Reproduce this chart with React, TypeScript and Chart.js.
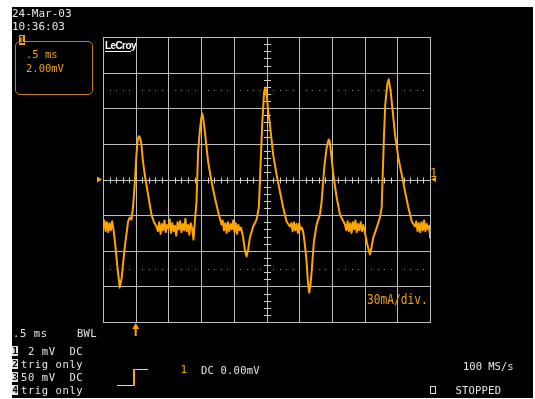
import React, { useEffect, useRef } from 'react';
import { Chart, registerables } from 'chart.js';

Chart.register(...registerables);

// ---- data (time in ms, channel 1 in mV) ----
const timeMs = [
  0, 0.02, 0.04, 0.06, 0.08, 0.1, 0.12, 0.14, 0.16,
  0.179, 0.217, 0.256, 0.286, 0.332, 0.383, 0.409, 0.435, 0.459, 0.485, 0.511, 0.531, 0.551, 0.569, 0.588, 0.608, 0.638, 0.689, 0.741, 0.776, 0.817,
  0.84, 0.86, 0.88, 0.9, 0.92, 0.94, 0.96, 0.98, 1.0, 1.02, 1.04, 1.06, 1.08, 1.1, 1.12, 1.14, 1.16, 1.18, 1.2, 1.22, 1.24, 1.26, 1.28, 1.3, 1.32, 1.34, 1.36,
  1.384, 1.404, 1.43, 1.454, 1.48, 1.5, 1.515, 1.531, 1.557, 1.607, 1.659, 1.71, 1.76, 1.812,
  1.83, 1.85, 1.87, 1.89, 1.91, 1.93, 1.95, 1.97, 1.99, 2.01, 2.03, 2.05, 2.07, 2.09, 2.11,
  2.143, 2.169, 2.195, 2.219, 2.246, 2.296, 2.348, 2.383, 2.414, 2.434, 2.464, 2.486, 2.506, 2.526, 2.552, 2.602, 2.654, 2.705, 2.755, 2.807, 2.858,
  2.88, 2.9, 2.92, 2.94, 2.96, 2.98, 3.0, 3.02, 3.04,
  3.061, 3.087, 3.113, 3.133, 3.153, 3.172, 3.19, 3.225, 3.266, 3.291, 3.317, 3.343, 3.383, 3.42, 3.45, 3.466, 3.485, 3.521, 3.573, 3.623, 3.7,
  3.72, 3.74, 3.76, 3.78, 3.8, 3.82, 3.84, 3.86, 3.88, 3.9, 3.92, 3.94, 3.96, 3.98, 4.0,
  4.032, 4.06, 4.082, 4.105, 4.133, 4.185, 4.235, 4.261, 4.277, 4.297, 4.316, 4.347, 4.368, 4.399, 4.43, 4.465, 4.515, 4.568, 4.618, 4.669, 4.721, 4.771,
  4.79, 4.81, 4.83, 4.85, 4.87, 4.89, 4.91, 4.93, 4.95, 4.97, 4.99, 5.0,
];

const voltageMv = [
  -2.55, -2.3, -2.9, -2.4, -2.95, -2.45, -2.85, -2.35, -2.8,
  -3.37, -4.78, -6.07, -5.51, -3.82, -2.36, -2.13, -2.25, -1.57, -0.28, 1.4, 2.25, 2.43, 2.3, 1.97, 1.12, 0.28, -0.84, -1.97, -2.36, -2.64,
  -2.9, -2.4, -3.05, -2.5, -2.85, -2.3, -2.95, -2.55, -2.75, -2.25, -3.0, -2.45, -2.9, -2.6, -3.15, -2.4, -2.8, -2.35, -2.95, -2.5, -2.85, -2.2, -2.9, -2.55, -3.1, -2.45, -2.7,
  -3.37, -2.36, -1.24, 1.57, 2.7, 3.37, 3.71, 3.48, 2.7, 1.01, -0.11, -1.01, -1.8, -2.53,
  -2.3, -2.85, -2.45, -3.0, -2.4, -2.9, -2.5, -2.8, -2.3, -2.95, -2.45, -3.05, -2.55, -2.85, -2.7,
  -3.26, -3.93, -4.33, -3.93, -3.26, -2.64, -2.25, -1.57, 1.24, 3.09, 4.94, 5.17, 4.61, 3.82, 3.09, 1.4, 0.28, -0.67, -1.57, -2.36, -2.64,
  -2.45, -2.9, -2.4, -2.85, -2.5, -3.0, -2.45, -2.8, -2.7,
  -2.92, -3.65, -4.61, -5.73, -6.35, -5.9, -5.17, -3.48, -2.53, -2.25, -1.97, -1.24, 0.67, 1.8, 2.25, 2.13, 1.57, 0.28, -1.01, -1.97, -2.53,
  -2.85, -2.35, -2.9, -2.45, -3.0, -2.4, -2.8, -2.3, -2.95, -2.5, -2.85, -2.4, -2.9, -2.55, -2.9,
  -3.48, -3.93, -4.21, -3.82, -3.26, -2.7, -2.13, -1.57, 0.28, 2.53, 4.21, 5.34, 5.62, 4.94, 3.82, 2.53, 1.24, 0.28, -0.67, -1.57, -2.36, -2.64,
  -2.35, -2.9, -2.45, -2.95, -2.4, -2.85, -2.3, -2.9, -2.5, -2.8, -2.6, -3.26,
];

// screen geometry in engineering units
const TIME_RANGE = [0, 5];
const TIME_DIV = 0.5;
const TIME_MINOR = 0.1;
const VOLT_RANGE = [-8, 8];
const VOLT_DIV = 2;
const VOLT_MINOR = 0.4;
const DOTTED_LEVELS = [5, -5];
const TRIGGER_TIME = 0.5;

// texts
const headerLines = ['24-Mar-03', '10:36:03'];
const channelBoxLines = ['.5 ms', '2.00mV'];
const channelRows = [
  { id: '1', text: ' 2 mV  DC' },
  { id: '2', text: 'trig only' },
  { id: '3', text: '50 mV  DC' },
  { id: '4', text: 'trig only' },
];
const timebaseLabel = '.5 ms';
const bandwidthLabel = 'BWL';
const triggerChannel = '1';
const triggerInfo = 'DC 0.00mV';
const sampleRate = '100 MS/s';
const runState = 'STOPPED';
const scaleNote = '30mA/div.';
const brand = 'LeCroy';

const TRACE = '#ffa500';
const ORANGE_TXT = '#f3a000';
const WHITE_TXT = '#e6e6e6';
const GRID = '#bdbdbd';
const MONO = '"DejaVu Sans Mono", "Liberation Mono", monospace';

const scopePlugin = {
  id: 'scopeGrid',
  beforeDatasetsDraw(chart: any) {
    const { ctx, chartArea: a, scales } = chart;
    const xs = scales.x;
    const ys = scales.y;
    ctx.save();
    // dotted level lines
    ctx.fillStyle = '#7a7a7a';
    for (const lv of DOTTED_LEVELS) {
      const py = Math.round(ys.getPixelForValue(lv));
      const n = Math.round((TIME_RANGE[1] - TIME_RANGE[0]) / TIME_MINOR);
      for (let k = 1; k < n; k++) {
        if (k % 5 === 0) continue;
        const px = Math.round(xs.getPixelForValue(TIME_RANGE[0] + k * TIME_MINOR));
        ctx.fillRect(px, py, 1, 1);
      }
    }
    // grid
    ctx.strokeStyle = GRID;
    ctx.lineWidth = 1;
    ctx.beginPath();
    const nx = Math.round((TIME_RANGE[1] - TIME_RANGE[0]) / TIME_DIV);
    for (let k = 0; k <= nx; k++) {
      const px = Math.round(xs.getPixelForValue(TIME_RANGE[0] + k * TIME_DIV)) + 0.5;
      ctx.moveTo(px, a.top);
      ctx.lineTo(px, a.bottom + 1);
    }
    const ny = Math.round((VOLT_RANGE[1] - VOLT_RANGE[0]) / VOLT_DIV);
    for (let k = 0; k <= ny; k++) {
      const py = Math.round(ys.getPixelForValue(VOLT_RANGE[0] + k * VOLT_DIV)) + 0.5;
      ctx.moveTo(a.left, py);
      ctx.lineTo(a.right + 1, py);
    }
    ctx.stroke();
    // center axis ticks
    ctx.strokeStyle = '#d0d0d0';
    ctx.beginPath();
    const cy = Math.round(ys.getPixelForValue(0)) + 0.5;
    const nMinX = Math.round((TIME_RANGE[1] - TIME_RANGE[0]) / TIME_MINOR);
    for (let k = 1; k < nMinX; k++) {
      if (k % 5 === 0) continue;
      const px = Math.round(xs.getPixelForValue(TIME_RANGE[0] + k * TIME_MINOR)) + 0.5;
      ctx.moveTo(px, cy - 3);
      ctx.lineTo(px, cy + 3);
    }
    const cx = Math.round(xs.getPixelForValue((TIME_RANGE[0] + TIME_RANGE[1]) / 2)) + 0.5;
    const nMinY = Math.round((VOLT_RANGE[1] - VOLT_RANGE[0]) / VOLT_MINOR);
    for (let k = 1; k < nMinY; k++) {
      if (k % 5 === 0) continue;
      const py = Math.round(ys.getPixelForValue(VOLT_RANGE[0] + k * VOLT_MINOR)) + 0.5;
      ctx.moveTo(cx - 3.5, py);
      ctx.lineTo(cx + 3.5, py);
    }
    ctx.stroke();
    ctx.restore();
  },
  afterDatasetsDraw(chart: any) {
    const { ctx, chartArea: a, scales } = chart;
    const xs = scales.x;
    const ys = scales.y;
    ctx.save();
    ctx.fillStyle = TRACE;
    const zy = ys.getPixelForValue(0);
    // left ground marker
    ctx.beginPath();
    ctx.moveTo(a.left - 6, zy - 3);
    ctx.lineTo(a.left - 1, zy);
    ctx.lineTo(a.left - 6, zy + 3);
    ctx.closePath();
    ctx.fill();
    // right channel marker
    ctx.beginPath();
    ctx.moveTo(a.right + 1, zy);
    ctx.lineTo(a.right + 6, zy - 2.5);
    ctx.lineTo(a.right + 6, zy + 2.5);
    ctx.closePath();
    ctx.fill();
    // trigger position arrow
    const tx = xs.getPixelForValue(TRIGGER_TIME);
    ctx.beginPath();
    ctx.moveTo(tx, a.bottom + 1);
    ctx.lineTo(tx + 3.5, a.bottom + 7);
    ctx.lineTo(tx - 3.5, a.bottom + 7);
    ctx.closePath();
    ctx.fill();
    ctx.fillRect(tx - 1, a.bottom + 7, 2, 7);
    ctx.restore();
  },
};

function Label(props: { x: number; base: number; size: number; color: string; text: string; ls?: number; family?: string; weight?: string; sx?: number }) {
  const { x, base, size, color, text, ls = 0, family = MONO, weight = 'normal', sx = 1 } = props;
  return (
    <div
      style={{
        position: 'absolute',
        left: x,
        top: base - 0.846 * size,
        fontSize: size,
        lineHeight: `${size}px`,
        fontFamily: family,
        fontWeight: weight as any,
        color,
        whiteSpace: 'pre',
        letterSpacing: ls,
        transform: sx !== 1 ? `scaleX(${sx})` : undefined,
        transformOrigin: 'left top',
      }}
    >
      {text}
    </div>
  );
}

export default function App() {
  const ref = useRef<HTMLCanvasElement>(null);

  useEffect(() => {
    const canvas = ref.current;
    if (!canvas) return;
    const chart = new Chart(canvas, {
      type: 'line',
      data: {
        datasets: [
          {
            data: timeMs.map((t, i) => ({ x: t, y: voltageMv[i] })),
            borderColor: TRACE,
            borderWidth: 2,
            borderJoinStyle: 'round',
            borderCapStyle: 'round',
            pointRadius: 0,
            tension: 0,
            fill: false,
          },
        ],
      },
      options: {
        animation: false,
        responsive: false,
        maintainAspectRatio: false,
        devicePixelRatio: 1,
        events: [],
        layout: { padding: { left: 103, top: 37, right: 105, bottom: 77 } },
        plugins: { legend: { display: false }, tooltip: { enabled: false } },
        scales: {
          x: { type: 'linear', min: TIME_RANGE[0], max: TIME_RANGE[1], display: false },
          y: { type: 'linear', min: VOLT_RANGE[0], max: VOLT_RANGE[1], display: false },
        },
      } as any,
      plugins: [scopePlugin as any],
    });
    return () => chart.destroy();
  }, []);

  const rowBases = [354.5, 367.5, 380.5, 393.5];

  return (
    <div style={{ position: 'fixed', left: 0, top: 0, width: 535, height: 399, background: '#ffffff', overflow: 'hidden' }}>
      <div style={{ position: 'absolute', left: 12, top: 7, width: 521, height: 391, background: '#000000' }} />
      <canvas ref={ref} width={535} height={399} style={{ position: 'absolute', left: 0, top: 0, width: 535, height: 399 }} />

      {/* header */}
      <Label x={12} base={17.5} size={11} color={WHITE_TXT} text={headerLines[0]} />
      <Label x={12} base={30.5} size={11} color={WHITE_TXT} text={headerLines[1]} />

      {/* channel box */}
      <div style={{ position: 'absolute', left: 15, top: 40.5, width: 76, height: 52, border: '1px solid #c98200', borderRadius: 5 }} />
      <div style={{ position: 'absolute', left: 19, top: 35, width: 6, height: 10, background: '#f0a000', color: '#000', fontFamily: MONO, fontSize: 9, lineHeight: '10px', fontWeight: 'bold', textAlign: 'center' }}>1</div>
      <Label x={26} base={57.5} size={10.5} color={ORANGE_TXT} text={channelBoxLines[0]} />
      <Label x={26} base={72} size={10.5} color={ORANGE_TXT} text={channelBoxLines[1]} />

      {/* brand */}
      <Label x={105} base={49.5} size={10} color="#ffffff" text={brand} family='"Liberation Sans", Arial, sans-serif' weight="bold" ls={-0.6} />
      <div style={{ position: 'absolute', left: 105, top: 50.5, width: 26, height: 1, background: '#ffffff' }} />

      {/* right channel marker label */}
      <Label x={430} base={177} size={12} color={ORANGE_TXT} text="1" />

      {/* scale note */}
      <Label x={367} base={303.5} size={14} color={ORANGE_TXT} text={scaleNote} sx={0.8} />

      {/* bottom left */}
      <Label x={13} base={336.5} size={10.5} color={WHITE_TXT} text={timebaseLabel} ls={0.6} />
      <Label x={77} base={336.5} size={10.5} color={WHITE_TXT} text={bandwidthLabel} ls={0.3} />
      {channelRows.map((r, i) => (
        <React.Fragment key={r.id}>
          <div
            style={{
              position: 'absolute',
              left: 12,
              top: rowBases[i] - 9,
              width: 6,
              height: 10,
              background: '#e6e6e6',
              color: '#000',
              fontFamily: MONO,
              fontSize: 9.5,
              lineHeight: '10px',
              fontWeight: 'bold',
              textAlign: 'center',
              overflow: 'hidden',
            }}
          >
            {r.id}
          </div>
          <Label x={21} base={rowBases[i]} size={10.5} color={WHITE_TXT} text={r.text} ls={0.6} />
        </React.Fragment>
      ))}

      {/* trigger symbol */}
      <div style={{ position: 'absolute', left: 117, top: 384.5, width: 16, height: 1, background: '#d8d8d8' }} />
      <div style={{ position: 'absolute', left: 133, top: 369.5, width: 1.5, height: 16, background: TRACE }} />
      <div style={{ position: 'absolute', left: 133, top: 369, width: 5, height: 1, background: TRACE }} />
      <div style={{ position: 'absolute', left: 138, top: 369, width: 10, height: 1, background: '#d8d8d8' }} />
      <Label x={180.5} base={373.5} size={11} color={ORANGE_TXT} text={triggerChannel} />
      <Label x={201} base={373.5} size={10.5} color={WHITE_TXT} text={triggerInfo} ls={0.2} />

      {/* bottom right */}
      <Label x={463} base={369.5} size={10.5} color={WHITE_TXT} text={sampleRate} ls={0} />
      <div style={{ position: 'absolute', left: 430, top: 386, width: 4, height: 6, border: '1px solid #d8d8d8' }} />
      <Label x={455.5} base={393.5} size={10.5} color={WHITE_TXT} text={runState} ls={0.2} />
    </div>
  );
}
